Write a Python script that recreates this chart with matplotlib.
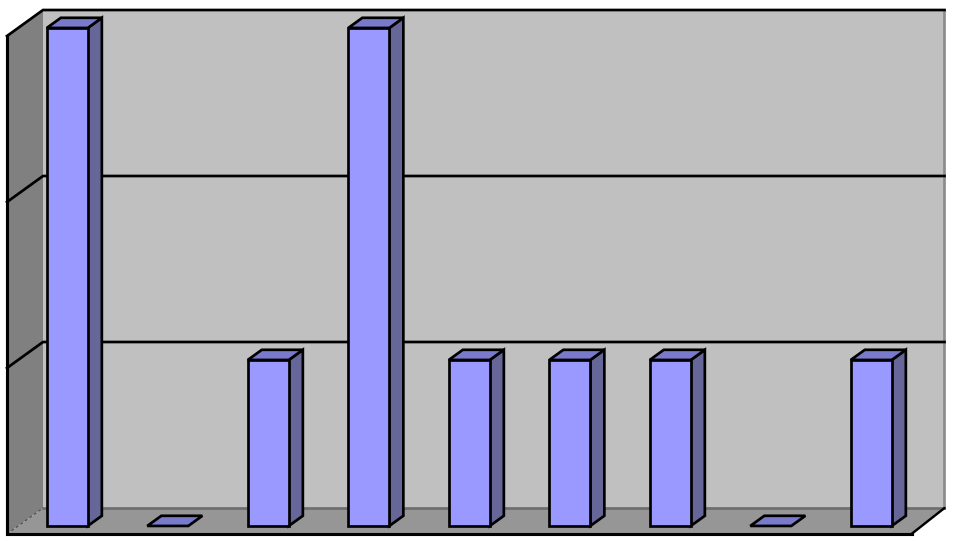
import matplotlib
matplotlib.use("Agg")
import matplotlib.pyplot as plt
from matplotlib.patches import Polygon

# Data
positions = [0, 1, 2, 3, 4, 5, 6, 7, 8]
values = [3, 0, 1, 3, 1, 1, 1, 0, 1]
grid_values = [1, 2, 3]

# Appearance / pseudo-3D projection
W, H = 956, 541
PX_X, PX_Y = 100.5, 166.0
LEFT_PX = 7
BOTTOM_PX = 534
DX, DY = 36 / PX_X, 26 / PX_Y
BAR_W = 41 / PX_X
BAR_SHIFT = -0.011
D0, D1 = 0.31, 0.70
X0, X1, YMAX = -0.5, 8.5, 3.0
X1_BACK = 8.47

LINE = 2.7 / 100 * 72
BLACK = "#000000"

fig = plt.figure(figsize=(W / 100, H / 100), dpi=100, facecolor="white")
ax = fig.add_axes([0, 0, 1, 1])
ax.set_xlim(X0 - LEFT_PX / PX_X, X0 + (W - LEFT_PX) / PX_X)
ax.set_ylim(-(H - BOTTOM_PX) / PX_Y, BOTTOM_PX / PX_Y)
ax.axis("off")


def proj(x, v, d):
    return (x + d * DX, v + d * DY)


def face(pts, fc, ec=BLACK, lw=LINE, z=1):
    ax.add_patch(Polygon(pts, closed=True, facecolor=fc, edgecolor=ec, linewidth=lw,
                         joinstyle="miter", zorder=z))


# Walls and floor
face([proj(X0, 0, 1), proj(X1_BACK, 0, 1), proj(X1_BACK, YMAX, 1), proj(X0, YMAX, 1)],
     "#c0c0c0", ec="none", lw=0, z=1)
face([proj(X0, 0, 0), proj(X0, 0, 1), proj(X0, YMAX, 1), proj(X0, YMAX, 0)],
     "#808080", ec="none", lw=0, z=1)
face([proj(X0, 0, 0), proj(X1, 0, 0), proj(X1_BACK, 0, 1), proj(X0, 0, 1)],
     "#969696", ec="none", lw=0, z=1)

# Wall edges
ax.plot(*zip(proj(X1_BACK, 0, 1), proj(X1_BACK, YMAX, 1)), color="#8c8c8c", lw=LINE, zorder=2)
ax.plot(*zip(proj(X0, 0, 1), proj(X1_BACK, 0, 1)), color="#6e6e6e", lw=LINE, zorder=2)
ax.plot(*zip(proj(X0, 0, 0), proj(X0, 0, 1)), color="#555555", lw=1, ls=(0, (2, 2)), zorder=2)

# Gridlines across the left and back walls
for g in grid_values:
    ax.plot(*zip(proj(X0, g, 0), proj(X0, g, 1), proj(X1_BACK, g, 1)),
            color=BLACK, lw=LINE, solid_joinstyle="miter", zorder=3)

# Axis edges
ax.plot(*zip(proj(X0, YMAX, 0), proj(X0, 0, 0), proj(X1, 0, 0)),
        color=BLACK, lw=LINE * 1.15, solid_joinstyle="miter", zorder=3)
ax.plot(*zip(proj(X1, 0, 0), proj(X1_BACK, 0, 1)), color=BLACK, lw=LINE * 0.9,
        solid_capstyle="round", zorder=3)

# Bars
for x, v in zip(positions, values):
    l, r = x - BAR_W / 2 + BAR_SHIFT, x + BAR_W / 2 + BAR_SHIFT
    if v > 0:
        face([proj(r, 0, D0), proj(r, 0, D1), proj(r, v, D1), proj(r, v, D0)], "#666699", z=5)
        face([proj(l, v, D0), proj(r, v, D0), proj(r, v, D1), proj(l, v, D1)], "#7a7acc", z=5)
        face([proj(l, 0, D0), proj(r, 0, D0), proj(r, v, D0), proj(l, v, D0)], "#9999ff", z=6)
    else:
        face([proj(l, 0, D0), proj(r, 0, D0), proj(r, 0, D1), proj(l, 0, D1)], "#7a7acc", z=5)

fig.savefig("out.png", dpi=100, facecolor="white")
